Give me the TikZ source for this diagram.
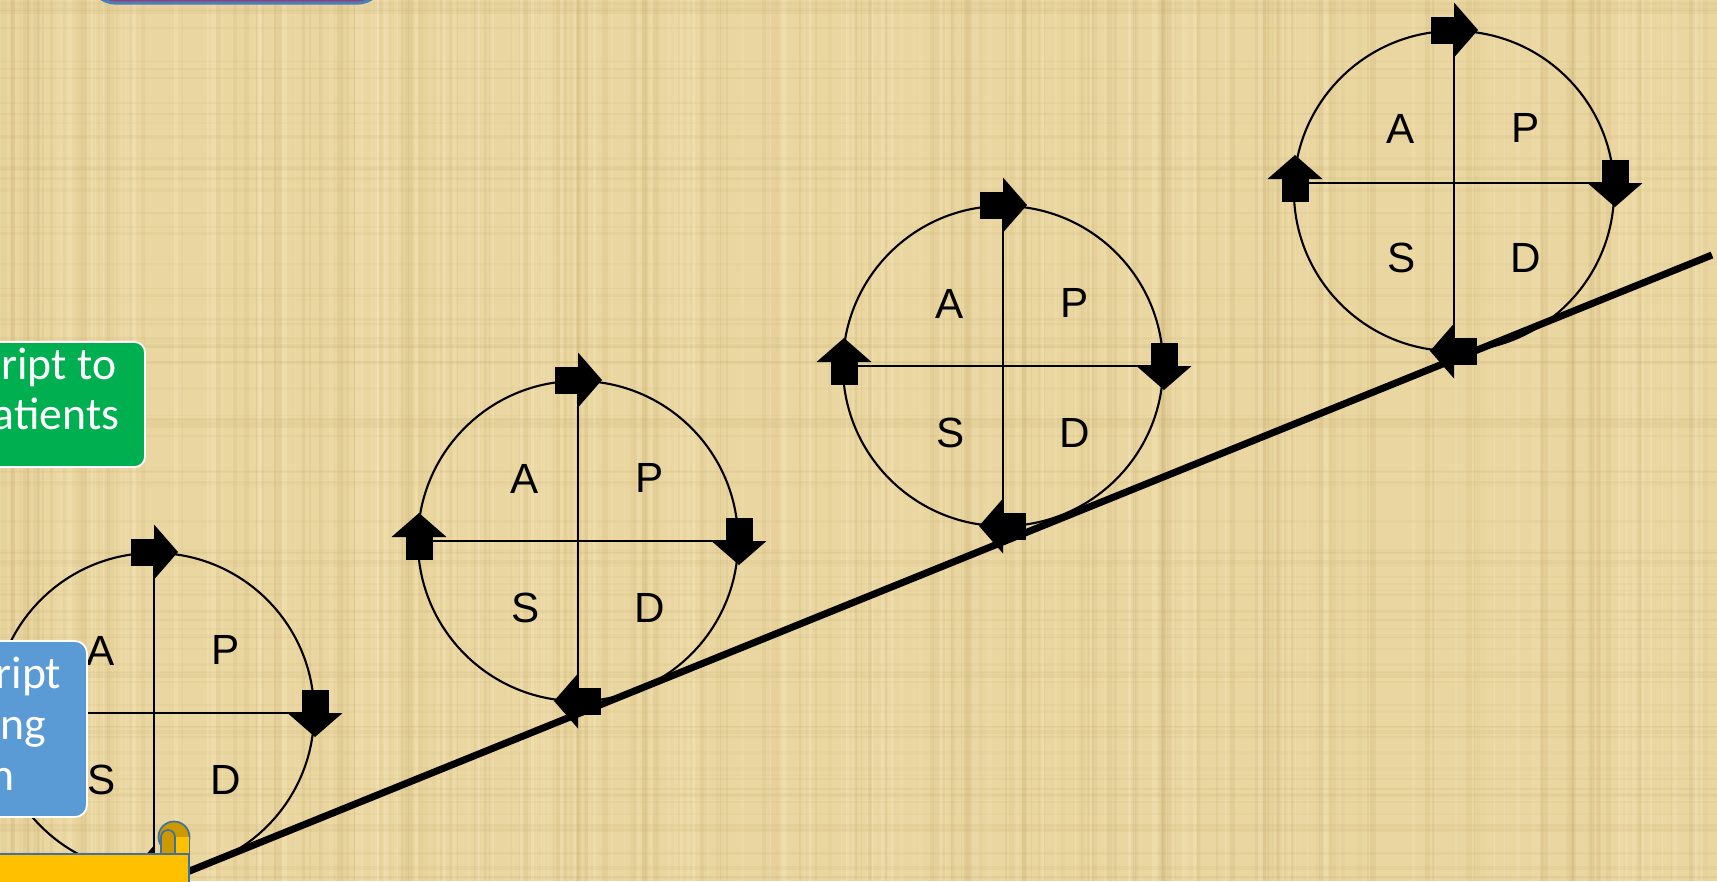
\documentclass[tikz,border=0pt]{standalone}
\usepackage{fontspec}
\setmainfont{Liberation Sans}
\newfontfamily\calibrifont{Carlito}
\definecolor{papyrus}{RGB}{234,214,160}
\definecolor{streakdark}{RGB}{196,170,110}
\definecolor{streaklight}{RGB}{250,238,200}
\definecolor{boxgreen}{RGB}{0,176,80}
\definecolor{boxblue}{RGB}{91,155,213}
\definecolor{boxyellow}{RGB}{255,192,0}
\definecolor{curlyellow}{RGB}{204,154,0}
\definecolor{scrolledge}{RGB}{65,113,156}
\definecolor{topfill}{RGB}{150,60,110}
\definecolor{topedge}{RGB}{74,126,187}
\tikzset{
  ring/.style={draw=black, circle, minimum size=3.2cm, inner sep=0pt, outer sep=0pt, line width=0.6pt},
  crossline/.style={draw=black, line width=0.4pt},
  lab/.style={font=\fontsize{12}{14}\selectfont, text=black, inner sep=0pt},
  boxtext/.style={font=\calibrifont\fontsize{13}{15}\selectfont, text=white, inner sep=0pt, anchor=base east},
  pics/barrow/.style={code={
    \fill[black] (-23,-13.5) rectangle (0,13.5);
    \fill[black] (0,-27.5) -- (24,0) -- (0,27.5) -- cycle;
  }},
  pics/apsd/.style={code={
    \node[ring] (-ring) at (0,0) {};
    \draw[crossline] (-ring.north) -- (-ring.south);
    \draw[crossline] ([yshift=#1*0.01cm]-ring.west) -- ([yshift=#1*0.01cm]-ring.east);
    \node[lab] (-A) at (-53,62) {A};
    \node[lab] (-P) at (72,63) {P};
    \node[lab] (-S) at (-52,-67) {S};
    \node[lab] (-D) at (72,-67) {D};
    \pic[rotate=0] at (0,161) {barrow};
    \pic[rotate=-90] at (161,#1) {barrow};
    \pic[rotate=90] at (-159,4+#1) {barrow};
    \pic[rotate=180] at (0,-160) {barrow};
  }}
}
\begin{document}
\begin{tikzpicture}[x=0.01cm, y=0.01cm]
\useasboundingbox (0,0) rectangle (1717,-881);
\fill[papyrus] (0,0) rectangle (1717,-881);
\clip (0,0) rectangle (1717,-881);

% papyrus texture
\pgfmathsetseed{11}
\foreach \i in {1,...,220}{
  \pgfmathsetmacro\xx{rnd*1717}
  \pgfmathsetmacro\ww{1+rnd*5}
  \pgfmathsetmacro\op{0.06+rnd*0.14}
  \fill[streakdark, opacity=\op] (\xx,0) rectangle ++(\ww,-881);
}
\foreach \i in {1,...,160}{
  \pgfmathsetmacro\xx{rnd*1717}
  \pgfmathsetmacro\ww{1+rnd*4}
  \pgfmathsetmacro\op{0.10+rnd*0.20}
  \fill[streaklight, opacity=\op] (\xx,0) rectangle ++(\ww,-881);
}
\foreach \i in {1,...,90}{
  \pgfmathsetmacro\yy{-rnd*881}
  \pgfmathsetmacro\hh{1+rnd*3}
  \pgfmathsetmacro\op{0.05+rnd*0.10}
  \fill[streakdark, opacity=\op] (0,\yy) rectangle ++(1717,\hh);
}

% cycles
\pic (c1) at (154,-713) {apsd=0};
\pic (c2) at (578,-541) {apsd=0};
\pic (c3) at (1003,-366) {apsd=0};
\pic (c4) at (1454,-191) {apsd=8};

% rising line
\coordinate (L0) at (150,-887);
\coordinate (L1) at (1712,-255);
\draw[line width=2pt, black] (L0) -- (L1);

% top partial box
\node[draw=topedge, fill=topfill, line width=0.9pt, rounded corners=8pt, minimum width=2.97cm, minimum height=0.6cm, inner sep=0pt] (topbox) at (236.5,27) {};

% green box
\node[draw=white, fill=boxgreen, line width=0.5pt, rounded corners=3pt, minimum width=1.75cm, minimum height=1.25cm, inner sep=0pt] (greenbox) at (57.5,-404.5) {};
\node[boxtext] (g1) at (117,-379) {ript to};
\node[boxtext] (g2) at (120,-429) {atients};

% blue box
\node[draw=white, fill=boxblue, line width=0.5pt, rounded corners=3.5pt, minimum width=1.17cm, minimum height=1.76cm, inner sep=0pt] (bluebox) at (28.5,-729) {};
\node[boxtext] (b1) at (62,-688) {ript};
\node[boxtext] (b2) at (47,-739) {ng};
\node[boxtext] (b3) at (15,-790) {n};

% yellow scroll
\filldraw[fill=curlyellow, draw=scrolledge, line width=0.5pt] (174,-837) circle[radius=15.5];
\fill[boxyellow] (161,-837) rectangle (189.5,-853);
\draw[scrolledge, line width=0.5pt] (189.5,-837) -- (189.5,-853);
\filldraw[fill=curlyellow, draw=scrolledge, line width=0.5pt] (161,-853) -- (161,-837) arc[start angle=180, end angle=0, radius=7] -- (175,-853);
\node[draw=scrolledge, fill=boxyellow, line width=0.5pt, minimum width=2.1cm, minimum height=0.5cm, inner sep=0pt, anchor=north east] (scroll) at (189.5,-853) {};
\end{tikzpicture}
\end{document}
